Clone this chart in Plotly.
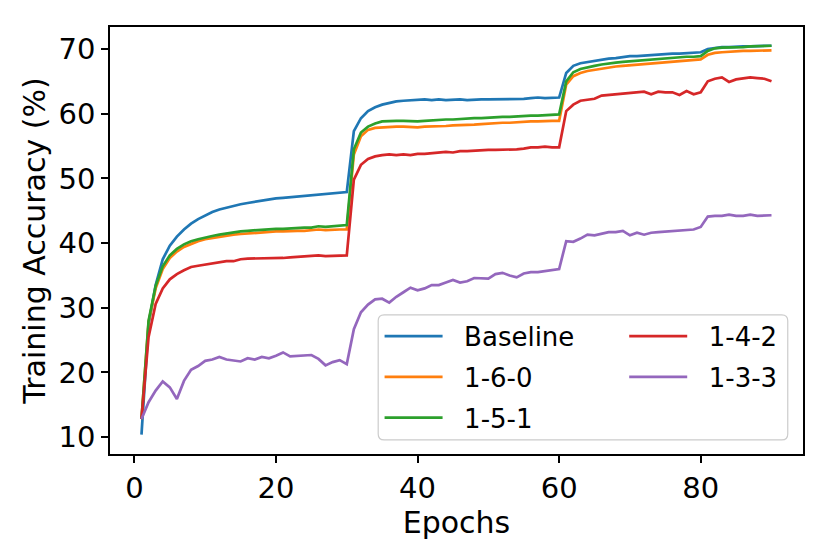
import plotly.graph_objects as go

# epochs 1..90
epochs = list(range(1, 91))

baseline = [10.4, 27.5, 33.5, 37.5, 39.6, 41.0, 42.1, 43.0, 43.7, 44.3,
            44.8, 45.2, 45.5, 45.8, 46.0, 46.2, 46.4, 46.6, 46.8, 46.9,
            47.0, 47.1, 47.3, 47.4, 47.5, 47.6, 47.7, 47.8, 47.9, 47.9,
            57.3, 59.3, 60.4, 61.0, 61.4, 61.7, 61.9, 62.0, 62.1, 62.2,
            62.2, 62.1, 62.2, 62.1, 62.2, 62.2, 62.1, 62.2, 62.2, 62.2,
            62.2, 62.3, 62.2, 62.3, 62.3, 62.4, 62.5, 62.4, 62.5, 62.5,
            66.3, 67.4, 67.8, 68.0, 68.2, 68.4, 68.5, 68.6, 68.8, 68.9,
            68.9, 69.0, 69.1, 69.1, 69.2, 69.3, 69.3, 69.4, 69.4, 69.5,
            70.0, 70.2, 70.3, 70.3, 70.4, 70.4, 70.4, 70.5, 70.5, 70.5]

cfg_160 = [12.8, 27.8, 33.0, 36.0, 37.7, 38.7, 39.4, 39.9, 40.3, 40.6,
           40.8, 41.0, 41.2, 41.3, 41.4, 41.5, 41.6, 41.7, 41.7, 41.8,
           41.8, 41.9, 41.9, 41.9, 42.0, 42.1, 42.0, 42.1, 42.1, 42.1,
           53.7, 56.5, 57.5, 57.8, 57.9, 58.0, 58.0, 58.0, 57.9, 57.9,
           58.0, 58.0, 58.1, 58.1, 58.2, 58.2, 58.3, 58.3, 58.4, 58.5,
           58.5, 58.6, 58.6, 58.7, 58.8, 58.8, 58.8, 58.9, 58.9, 58.9,
           64.5, 65.8, 66.3, 66.6, 66.8, 67.0, 67.2, 67.3, 67.4, 67.5,
           67.6, 67.7, 67.8, 67.9, 68.0, 68.1, 68.2, 68.3, 68.3, 68.4,
           69.1, 69.4, 69.5, 69.6, 69.6, 69.7, 69.7, 69.7, 69.8, 69.8]

cfg_151 = [12.8, 28.0, 33.4, 36.4, 38.1, 39.1, 39.8, 40.3, 40.6, 40.9,
           41.1, 41.3, 41.5, 41.6, 41.8, 41.9, 42.0, 42.0, 42.1, 42.2,
           42.2, 42.3, 42.3, 42.4, 42.4, 42.6, 42.5, 42.6, 42.6, 42.8,
           54.5, 57.1, 58.0, 58.5, 58.8, 58.9, 58.9, 58.9, 58.8, 58.8,
           58.9, 59.0, 59.0, 59.1, 59.1, 59.2, 59.2, 59.3, 59.3, 59.4,
           59.4, 59.5, 59.5, 59.6, 59.6, 59.7, 59.7, 59.8, 59.8, 59.9,
           65.0, 66.4, 66.9, 67.2, 67.4, 67.6, 67.8, 67.9, 68.0, 68.1,
           68.2, 68.3, 68.3, 68.4, 68.5, 68.6, 68.7, 68.8, 68.8, 68.9,
           69.7, 70.1, 70.2, 70.2, 70.3, 70.3, 70.4, 70.4, 70.5, 70.5]

cfg_142 = [12.8, 25.5, 30.6, 33.0, 34.4, 35.2, 35.8, 36.3, 36.5, 36.7,
           36.9, 37.1, 37.2, 37.2, 37.5, 37.6, 37.6, 37.7, 37.7, 37.7,
           37.7, 37.8, 37.9, 37.9, 38.0, 38.1, 38.0, 38.0, 38.1, 38.1,
           49.8, 52.1, 53.0, 53.4, 53.6, 53.7, 53.6, 53.7, 53.6, 53.8,
           53.8, 53.9, 54.0, 54.1, 54.0, 54.2, 54.2, 54.3, 54.3, 54.4,
           54.4, 54.4, 54.5, 54.5, 54.6, 54.8, 54.8, 54.9, 54.8, 54.8,
           60.4, 61.4, 62.0, 62.2, 62.3, 62.8, 62.9, 63.0, 63.1, 63.2,
           63.4, 63.4, 63.0, 63.4, 63.3, 63.3, 62.9, 63.5, 63.0, 63.3,
           65.0, 65.4, 65.6, 64.9, 65.3, 65.5, 65.6, 65.5, 65.4, 65.0]

cfg_133 = [12.8, 15.4, 17.2, 18.6, 17.7, 15.9, 18.7, 20.4, 21.0, 21.8,
           22.0, 22.4, 22.0, 21.8, 21.7, 22.2, 22.0, 22.4, 22.2, 22.6,
           23.1, 22.5, 22.6, 22.6, 22.7, 22.1, 21.1, 21.6, 21.9, 21.3,
           26.7, 29.3, 30.5, 31.3, 31.4, 30.8, 31.7, 32.4, 33.1, 32.7,
           33.0, 33.5, 33.5, 33.9, 34.3, 33.9, 34.1, 34.6, 34.5, 34.5,
           35.2, 35.4, 35.0, 34.7, 35.3, 35.5, 35.5, 35.7, 35.8, 36.0,
           40.3, 40.2, 40.7, 41.3, 41.2, 41.5, 41.7, 41.7, 41.9, 41.2,
           41.6, 41.3, 41.6, 41.7, 41.8, 41.9, 42.0, 42.1, 42.1, 42.5,
           44.1, 44.2, 44.2, 44.4, 44.2, 44.2, 44.4, 44.2, 44.2, 44.3]

# nom, valeurs, couleur, légende (colonne)
series = [
    ("Baseline", baseline, "#1f77b4", "legend"),
    ("1-6-0", cfg_160, "#ff7f0e", "legend"),
    ("1-5-1", cfg_151, "#2ca02c", "legend"),
    ("1-4-2", cfg_142, "#d62728", "legend2"),
    ("1-3-3", cfg_133, "#9467bd", "legend2"),
]

fig = go.Figure()
for name, vals, color, leg in series:
    fig.add_trace(go.Scatter(
        x=epochs, y=vals, name="\u00a0\u00a0" + name, mode="lines",
        line=dict(color=color, width=2.7),
        legend=leg, legendgroup=name,
    ))

font = "DejaVu Sans"
axis_style = dict(
    showgrid=False, zeroline=False, automargin=False,
    showline=True, linecolor="black", linewidth=1.5, mirror=True,
    ticks="outside", ticklen=7, tickwidth=1.5, tickcolor="black",
    tickfont=dict(family=font, size=29, color="black"),
)

# boîte de la légende à coins arrondis (coordonnées papier)
bx0, bx1, by0, by1 = 0.387, 0.978, 0.033, 0.326
rx, ry = 6 / 693, 6 / 427
box = (f"M {bx0 + rx},{by0} L {bx1 - rx},{by0} Q {bx1},{by0} {bx1},{by0 + ry} "
       f"L {bx1},{by1 - ry} Q {bx1},{by1} {bx1 - rx},{by1} "
       f"L {bx0 + rx},{by1} Q {bx0},{by1} {bx0},{by1 - ry} "
       f"L {bx0},{by0 + ry} Q {bx0},{by0} {bx0 + rx},{by0} Z")

leg_common = dict(
    bgcolor="rgba(0,0,0,0)", borderwidth=0,
    font=dict(family=font, size=26, color="black"),
    itemwidth=58, tracegroupgap=4,
    xanchor="left", yanchor="top", y=0.331,
)

# la page html ajoute 8 px de marge autour de la figure
fig.update_layout(
    width=822, height=546,
    margin=dict(l=102, r=27, t=19, b=100),
    paper_bgcolor="white", plot_bgcolor="white",
    font=dict(family=font, color="black"),
    xaxis=dict(axis_style, range=[-3.45, 94.45], tickvals=[0, 20, 40, 60, 80],
               title=dict(text="Epochs", font=dict(family=font, size=30), standoff=4)),
    yaxis=dict(axis_style, range=[7.4, 73.4], tickvals=[10, 20, 30, 40, 50, 60, 70],
               title=dict(text="Training Accuracy (%)", font=dict(family=font, size=30), standoff=4)),
    shapes=[dict(type="path", path=box, xref="paper", yref="paper",
                 fillcolor="rgba(255,255,255,0.8)", line=dict(color="#cccccc", width=1.2),
                 layer="above")],
    legend=dict(leg_common, x=0.389),
    legend2=dict(leg_common, x=0.742),
)

fig.write_html("out.html")
